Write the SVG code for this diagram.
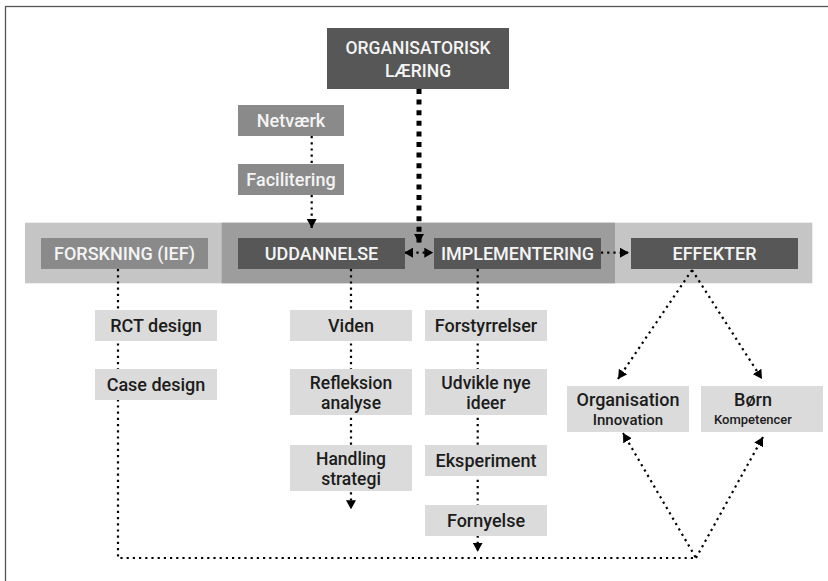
<svg xmlns="http://www.w3.org/2000/svg" width="828" height="581" viewBox="0 0 828 581">
<style>
text{font-family:Roboto,"Liberation Sans",sans-serif;font-size:18px;font-weight:500;text-anchor:middle}
.w{fill:#f4f4f4}
.k{fill:#1c1c1c}
.t2{font-size:17.5px}
.dk{fill:#575757}
.md{fill:#8a8a8a}
.lt{fill:#dbdbdb}
.dot{fill:none;stroke:#000;stroke-width:2.2;stroke-dasharray:2.2 4}
.thick{fill:none;stroke:#000;stroke-width:5;stroke-dasharray:5 5.6}
</style>
<defs>
<marker id="ah" viewBox="0 0 9 10" refX="9" refY="5" markerWidth="9" markerHeight="10" markerUnits="userSpaceOnUse" orient="auto-start-reverse"><path d="M0,0 L9,5 L0,10 Z" fill="#000"/></marker>
</defs>
<rect x="5.5" y="6.5" width="900" height="700" fill="#fff" stroke="#555" stroke-width="1.3"/>
<g id="bands">
<rect x="25" y="222.7" width="787.3" height="60.6" fill="#c5c5c5"/>
<rect x="221.7" y="222.7" width="393.3" height="60.6" fill="#9d9d9d"/>
</g>
<g id="connectors">
<path class="dot" d="M311.7,136 V164"/>
<path class="dot" d="M311.7,195 V228" marker-end="url(#ah)"/>
<path class="thick" d="M419,89 V243" marker-end="url(#ah)"/>
<path class="dot" d="M404,252.7 H433.3" marker-start="url(#ah)" marker-end="url(#ah)"/>
<path class="dot" d="M601,252.7 H629" marker-end="url(#ah)"/>
<path class="dot" d="M118,269 V558 H696 L623,433" marker-end="url(#ah)"/>
<path class="dot" d="M696,558 L763,437" marker-end="url(#ah)"/>
<path class="dot" d="M351,269 V509.3" marker-end="url(#ah)"/>
<path class="dot" d="M477.7,269 V551.7" marker-end="url(#ah)"/>
<path class="dot" d="M692,270 L618,379" marker-end="url(#ah)"/>
<path class="dot" d="M692,270 L762,379" marker-end="url(#ah)"/>
</g>
<g id="org"><rect class="dk" x="327" y="28" width="182" height="61"/><text class="w" x="418" y="53.5" style="font-size:17.5px">ORGANISATORISK</text><text class="w" x="418" y="76.5" style="font-size:17.5px">LÆRING</text></g>
<g id="netvaerk"><rect class="md" x="238" y="105" width="106" height="31"/><text class="w" x="291" y="127">Netværk</text></g>
<g id="facilitering"><rect class="md" x="238" y="164" width="106" height="31"/><text class="w" x="291" y="186">Facilitering</text></g>
<g id="forskning"><rect class="md" x="41" y="238" width="167" height="31"/><text class="w" x="124.5" y="260">FORSKNING (IEF)</text></g>
<g id="uddannelse"><rect class="dk" x="238" y="238" width="167" height="31"/><text class="w" x="321.5" y="260">UDDANNELSE</text></g>
<g id="implementering"><rect class="dk" x="434" y="238" width="167" height="31"/><text class="w" x="517.5" y="260">IMPLEMENTERING</text></g>
<g id="effekter"><rect class="dk" x="631" y="238" width="167" height="31"/><text class="w" x="714.5" y="260">EFFEKTER</text></g>
<g id="rct"><rect class="lt" x="95" y="310" width="122" height="31"/><text class="k" x="156" y="332">RCT design</text></g>
<g id="case"><rect class="lt" x="95" y="369" width="122" height="31"/><text class="k" x="156" y="391">Case design</text></g>
<g id="viden"><rect class="lt" x="290" y="310" width="122" height="31"/><text class="k" x="351" y="332">Viden</text></g>
<g id="refleksion"><rect class="lt" x="290" y="369" width="122" height="46"/><text class="k t2" x="351" y="388.5">Refleksion</text><text class="k t2" x="351" y="408.5">analyse</text></g>
<g id="handling"><rect class="lt" x="290" y="445" width="122" height="46"/><text class="k t2" x="351" y="464.5">Handling</text><text class="k t2" x="351" y="484.5">strategi</text></g>
<g id="forstyrrelser"><rect class="lt" x="425" y="310" width="122" height="31"/><text class="k" x="486" y="332">Forstyrrelser</text></g>
<g id="udvikle"><rect class="lt" x="425" y="369" width="122" height="46"/><text class="k t2" x="486" y="388.5">Udvikle nye</text><text class="k t2" x="486" y="408.5">ideer</text></g>
<g id="eksperiment"><rect class="lt" x="425" y="445" width="122" height="31"/><text class="k" x="486" y="467">Eksperiment</text></g>
<g id="fornyelse"><rect class="lt" x="425" y="505" width="122" height="31"/><text class="k" x="486" y="527">Fornyelse</text></g>
<g id="organisation"><rect class="lt" x="567" y="386" width="122" height="46"/><text class="k" x="628" y="406">Organisation</text><text class="k" x="628" y="425" style="font-size:15px">Innovation</text></g>
<g id="born"><rect class="lt" x="701" y="386" width="122" height="46"/><text class="k" x="753" y="406">Børn</text><text class="k" x="753" y="424" style="font-size:13px">Kompetencer</text></g>
</svg>
